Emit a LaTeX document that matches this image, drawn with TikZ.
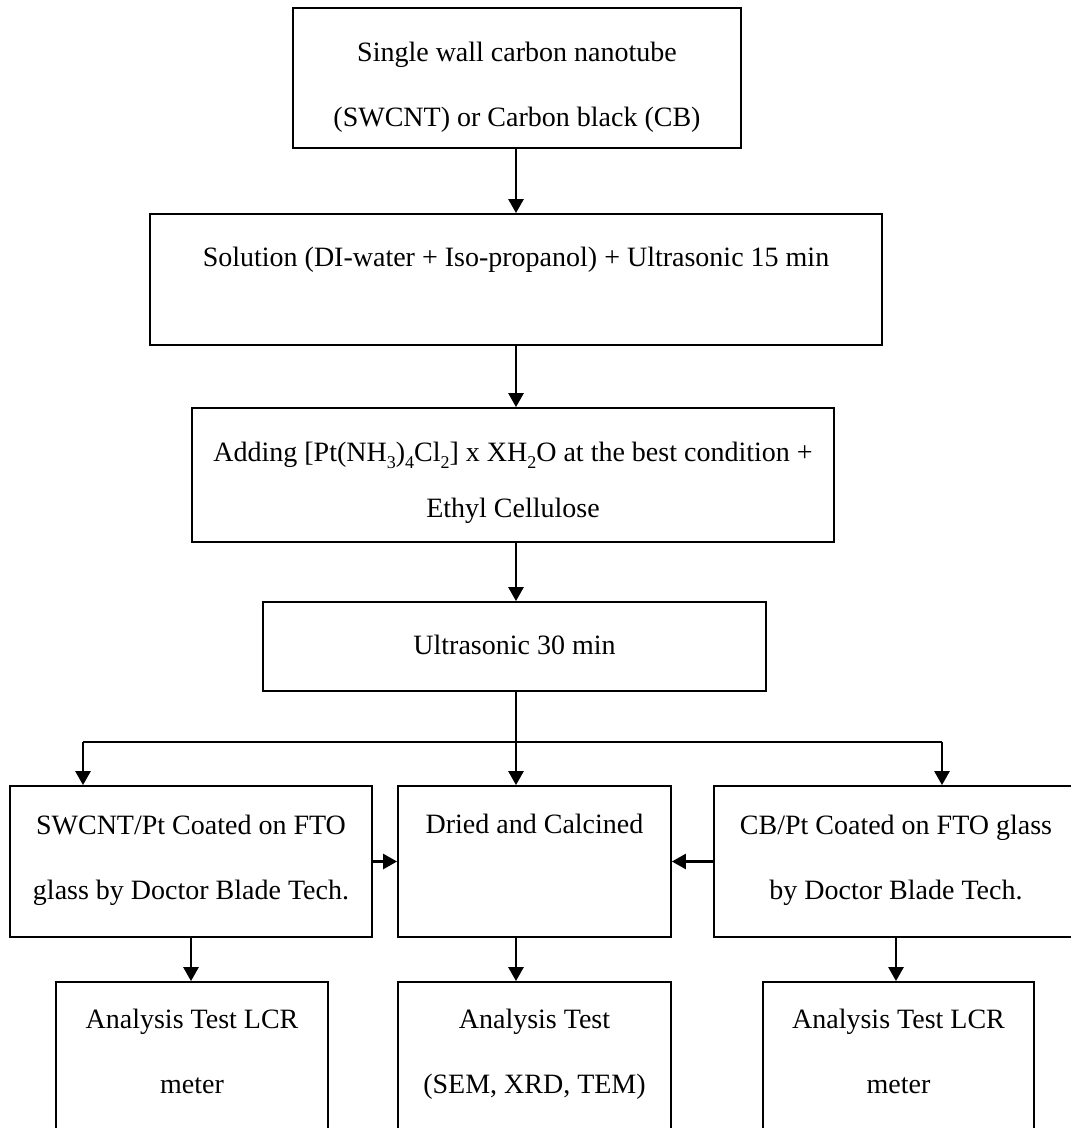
\documentclass[tikz,border=0pt]{standalone}
\usepackage{fontspec}
\setmainfont{Liberation Serif}
\usetikzlibrary{arrows.meta}
\newcommand\tstrut{\rule{0pt}{40pt}}
\newcommand\bstrut[1]{\rule[-#1pt]{0pt}{#1pt}}
\newcommand\subsc[1]{\raisebox{-7pt}{\fontsize{18}{18}\selectfont #1}}
\begin{document}
\begin{tikzpicture}[x=1pt,y=-1pt,
  box/.style={draw, line width=1.8pt, rectangle, inner sep=0pt, align=center,
    font=\fontsize{28}{65}\selectfont},
  flow/.style={line width=2.6pt, -{Triangle[length=14pt,width=15pt]}},
  branch/.style={line width=1.4pt}]
\useasboundingbox (0,0) rectangle (1071,1128);
\clip (0,0) rectangle (1071,1128);
\fill[white] (0,0) rectangle (1071,1128);

% main column
\node[box, minimum width=448pt, minimum height=140pt] (b1) at (517,78)
  {\tstrut Single wall carbon nanotube\\(SWCNT) or Carbon black (CB)\bstrut{8}};
\node[box, minimum width=732pt, minimum height=131pt] (b2) at (516,279.5)
  {\tstrut Solution (DI-water + Iso-propanol) + Ultrasonic 15 min\\\bstrut{1}};
\node[box, minimum width=642pt, minimum height=134pt, font=\fontsize{28}{56}\selectfont] (b3) at (513,475)
  {\tstrut Adding [Pt(NH\subsc{3})\subsc{4}Cl\subsc{2}] x XH\subsc{2}O at the best condition +\\Ethyl Cellulose\bstrut{12}};
\node[box, minimum width=503pt, minimum height=89pt] (b4) at (514.5,646.5)
  {\tstrut Ultrasonic 30 min\bstrut{24}};

% middle row
\node[box, minimum width=362pt, minimum height=151pt] (L) at (191,861.5)
  {\tstrut SWCNT/Pt Coated on FTO\\glass by Doctor Blade Tech.\bstrut{30}};
\node[box, minimum width=273pt, minimum height=151pt] (M) at (534.5,861.5)
  {\tstrut Dried and Calcined\bstrut{96}};
\node[box, minimum width=364pt, minimum height=151pt] (R) at (896,861.5)
  {\tstrut CB/Pt Coated on FTO glass\\by Doctor Blade Tech.\bstrut{30}};

% bottom row
\node[box, minimum width=272pt, minimum height=178pt] (LB) at (192,1071)
  {\tstrut Analysis Test LCR\\meter\bstrut{60}};
\node[box, minimum width=273pt, minimum height=178pt] (MB) at (534.5,1071)
  {\tstrut Analysis Test\\(SEM, XRD, TEM)\bstrut{60}};
\node[box, minimum width=271pt, minimum height=178pt] (RB) at (898.5,1071)
  {\tstrut Analysis Test LCR\\meter\bstrut{60}};

% connectors
\coordinate (split) at (516,742);
\coordinate (jl) at (83,742);
\coordinate (jr) at (942,742);
\draw[flow] (b1.south -| split) -- (split |- b2.north);
\draw[flow] (b2.south -| split) -- (split |- b3.north);
\draw[flow] (b3.south -| split) -- (split |- b4.north);
\draw[flow] (b4.south -| split) -- (split |- M.north);
\draw[branch] (jl) -- (jr);
\draw[flow] (jl) -- (jl |- L.north);
\draw[flow] (jr) -- (jr |- R.north);
\draw[flow] (L.east) -- (M.west);
\draw[flow] (R.west) -- (M.east);
\draw[flow] (L.south) -- (L.south |- LB.north);
\draw[flow] (M.south -| split) -- (split |- MB.north);
\draw[flow] (R.south) -- (R.south |- RB.north);
\end{tikzpicture}
\end{document}
